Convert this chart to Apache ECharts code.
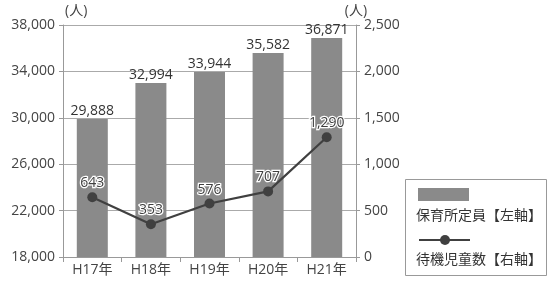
<!DOCTYPE html>
<html><head><meta charset="utf-8">
<script src="https://cdn.jsdelivr.net/npm/echarts@6/dist/echarts.min.js"></script>
<style>html,body{margin:0;padding:0;background:#fff}#c{width:547px;height:281px}</style>
</head><body><div id="c"></div>
<script>
const categories = ['H17年','H18年','H19年','H20年','H21年'];
const capacity = [29888, 32994, 33944, 35582, 36871];
const waiting = [643, 353, 576, 707, 1290];
const seriesNames = ['保育所定員【左軸】','待機児童数【右軸】'];
const unitName = '(人)';

const FONT = '"Open Sans", "Noto Sans CJK JP", sans-serif';
const W = 400;
const FS = 14;
const fmt = v => Number(v).toLocaleString('en-US');
const chart = echarts.init(document.getElementById('c'), null, {renderer:'canvas'});
chart.setOption({
  animation:false,
  textStyle:{fontFamily:FONT, fontWeight:W},
  grid:{left:63, right:191, top:25, bottom:24, containLabel:false},
  xAxis:{
    type:'category', data:categories,
    axisLine:{lineStyle:{color:'#999', width:1}},
    axisTick:{show:true, length:5, lineStyle:{color:'#999'}},
    axisLabel:{color:'#444', fontSize:FS, fontFamily:FONT, fontWeight:W, margin:6}
  },
  yAxis:[{
    type:'value', min:18000, max:38000, interval:4000, position:'left',
    name:unitName, nameLocation:'end', nameGap:7,
    nameTextStyle:{color:'#444', fontSize:FS, fontFamily:FONT, fontWeight:W, align:'left', padding:[0,0,0,2]},
    axisLine:{show:true, lineStyle:{color:'#999'}},
    axisTick:{show:true, length:4, lineStyle:{color:'#999'}},
    axisLabel:{color:'#444', fontSize:FS, fontFamily:FONT, fontWeight:W, margin:8, formatter:fmt},
    splitLine:{show:true, lineStyle:{color:'#aaa', width:1}}
  },{
    type:'value', min:0, max:2500, interval:500, position:'right',
    name:unitName, nameLocation:'end', nameGap:7,
    nameTextStyle:{color:'#444', fontSize:FS, fontFamily:FONT, fontWeight:W, align:'center', padding:[0,0,0,0]},
    axisLine:{show:true, lineStyle:{color:'#999'}},
    axisTick:{show:true, length:4, lineStyle:{color:'#999'}},
    axisLabel:{color:'#444', fontSize:FS, fontFamily:FONT, fontWeight:W, margin:8, formatter:fmt},
    splitLine:{show:false}
  }],
  series:[{
    name:seriesNames[0], type:'bar', data:capacity, yAxisIndex:0,
    barWidth:31, itemStyle:{color:'#8a8a8a'},
    label:{show:true, position:'top', distance:1, color:'#333', fontSize:FS, fontFamily:FONT, fontWeight:W,
      formatter:p=>fmt(p.value)}
  },{
    name:seriesNames[1], type:'line', data:waiting, yAxisIndex:1,
    symbol:'circle', symbolSize:10,
    lineStyle:{color:'#404040', width:2.2}, itemStyle:{color:'#404040'},
    label:{show:true, position:'top', distance:2, color:'#404040', fontSize:FS, fontFamily:FONT, fontWeight:W,
      textBorderColor:'#fff', textBorderWidth:2.5,
      formatter:p=>fmt(p.value)}
  }],
  graphic:[
    {type:'rect', left:405, top:179, shape:{width:141, height:96},
      style:{fill:'#fff', stroke:'#999', lineWidth:1}},
    {type:'rect', left:418, top:188, shape:{width:51, height:13}, style:{fill:'#8a8a8a'}},
    {type:'text', left:416, top:209, style:{text:seriesNames[0], fill:'#333', font:'14px '+FONT}},
    {type:'line', shape:{x1:419, y1:240, x2:470, y2:240}, style:{stroke:'#404040', lineWidth:2.2}},
    {type:'circle', shape:{cx:445, cy:240, r:5}, style:{fill:'#404040'}},
    {type:'text', left:416, top:253, style:{text:seriesNames[1], fill:'#333', font:'14px '+FONT}}
  ]
});
</script></body></html>
